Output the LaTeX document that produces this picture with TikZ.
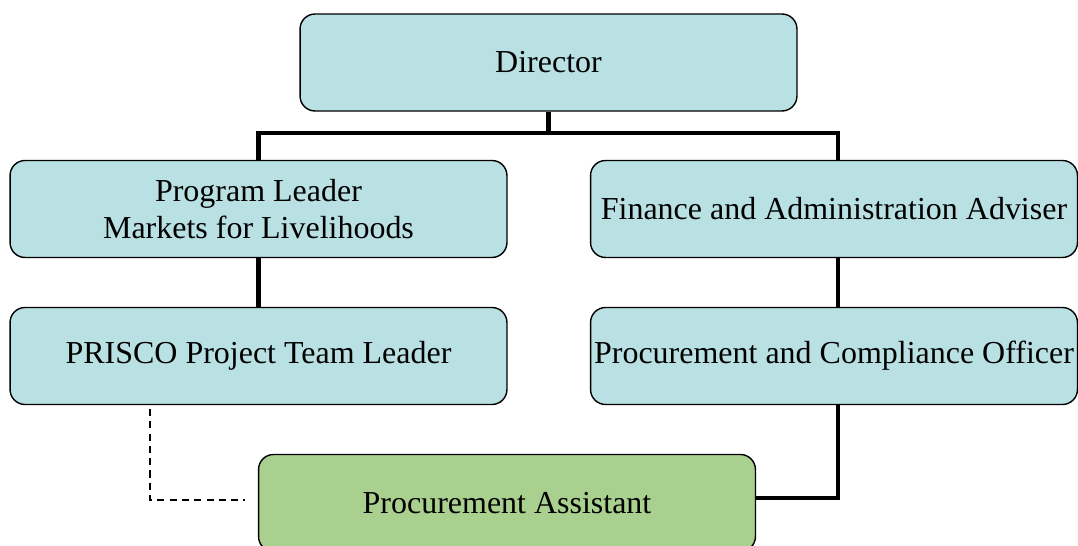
\documentclass[tikz,border=0pt]{standalone}
\usepackage{fontspec}
\setmainfont{Liberation Serif}
\usepackage{tikz}

\definecolor{staffblue}{HTML}{B9E0E3}
\definecolor{staffgreen}{HTML}{A9D08E}

\begin{document}
\begin{tikzpicture}[x=0.02cm, y=-0.02cm,
    role/.style={draw=black, line width=0.8pt, rounded corners=0.3cm, fill=staffblue,
        minimum width=9.94cm, minimum height=1.94cm, inner xsep=2pt, align=center,
        font=\fontsize{18.2}{21}\selectfont},
    reportline/.style={line width=2.8pt},
    dottedline/.style={line width=0.7pt, dash pattern=on 4pt off 3pt}]
    \useasboundingbox (0,0) rectangle (1078,546);

    % Top level
    \node[role] (director) at (548.5,62.5) {Director};

    % Left branch
    \node[role] (progleader) at (258.5,209) {Program Leader\\Markets for Livelihoods};
    \node[role] (prisco) at (258.5,356) {PRISCO Project Team Leader};

    % Right branch
    \node[role, minimum width=9.74cm] (finance) at (834,209) {Finance and Administration Adviser};
    \node[role, minimum width=9.74cm] (compliance) at (834,356) {Procurement and Compliance Officer};

    % Bottom
    \node[role, fill=staffgreen] (assistant) at (507,503) {Procurement Assistant};

    % Reporting lines
    \coordinate (bus) at (548.5,133);
    \coordinate (leftdrop) at (258.5,133);
    \coordinate (rightdrop) at (838,133);
    \draw[reportline] (director.south) -- (bus);
    \draw[reportline] (progleader.north) -- (leftdrop) -- (rightdrop) -- (rightdrop |- finance.north);
    \draw[reportline] (progleader.south) -- (prisco.north);
    \draw[reportline] (rightdrop |- finance.south) -- (rightdrop |- compliance.north);
    \draw[reportline] (rightdrop |- compliance.south) |- ([yshift=0.1cm]assistant.east);

    % Dotted-line report
    \coordinate (dashtop) at (150,409);
    \coordinate (dashend) at (245,500);
    \draw[dottedline] (dashtop) |- (dashend);
\end{tikzpicture}
\end{document}
